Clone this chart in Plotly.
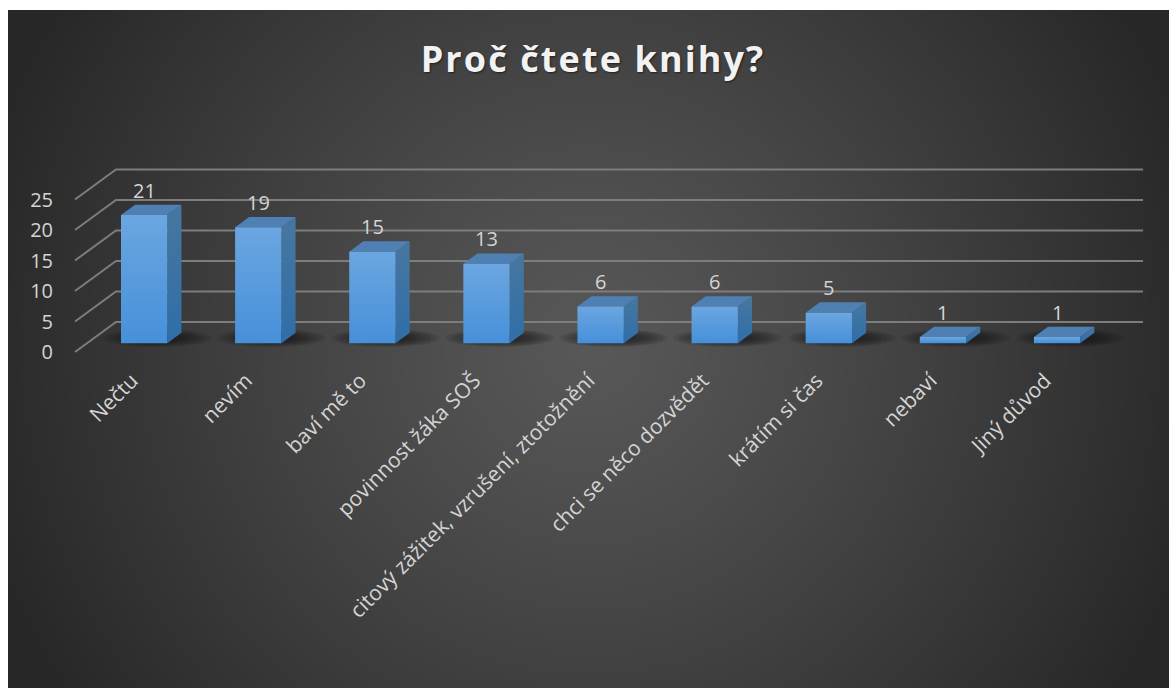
import base64, struct, zlib
import numpy as np
import plotly.graph_objects as go

categories = ["Nečtu", "nevím", "baví mě to", "povinnost žáka SOŠ",
              "citový zážitek, vzrušení, ztotožnění", "chci se něco dozvědět",
              "krátím si čas", "nebaví", "Jiný důvod"]
values = [21, 19, 15, 13, 6, 6, 5, 1, 1]
y_ticks = [0, 5, 10, 15, 20, 25]
title_text = "Proč čtete knihy?"

W, H = 1169, 688
X0_PX, Y0_PX = 75, 352          # front-left floor corner
X_UNIT = 1027 / 9               # px per category
Y_UNIT = 152.5 / 25             # px per value
L, R, T, B = 73, 1147, 165, 354
x_lo, x_hi = (L - X0_PX) / X_UNIT - 0.5, (R - X0_PX) / X_UNIT - 0.5
y_lo, y_hi = (Y0_PX - B) / Y_UNIT, (Y0_PX - T) / Y_UNIT
PW, PH = R - L, B - T
DX = 41 / X_UNIT       # wall depth in x units
DY = 30 / Y_UNIT       # wall depth in y units
BAR_W = 46.3 / X_UNIT
D_FRONT = 0.295
D_BACK = 0.64


def proj(x, y, d):
    return x + d * DX, y + d * DY


def png_uri():
    x0, y0, x1, y1 = 8, 10, W, H
    w, h = x1 - x0, y1 - y0
    yy, xx = np.mgrid[0:h, 0:w]
    r = np.hypot((xx + x0 - 590) / 640, (yy + y0 - 345) / 640)
    t = np.clip(r, 0, 1) ** 1.15
    v = 0x58 + (0x27 - 0x58) * t
    a = np.clip(v, 0, 255).astype(np.uint8)
    raw = b"".join(b"\x00" + np.repeat(row[:, None], 3, axis=1).tobytes() for row in a)

    def chunk(tag, data):
        body = tag + data
        return struct.pack(">I", len(data)) + body + struct.pack(">I", zlib.crc32(body))
    png = (b"\x89PNG\r\n\x1a\n" + chunk(b"IHDR", struct.pack(">IIBBBBB", w, h, 8, 2, 0, 0, 0))
           + chunk(b"IDAT", zlib.compress(raw, 9)) + chunk(b"IEND", b""))
    return "data:image/png;base64," + base64.b64encode(png).decode()


fig = go.Figure()
x_min, x_max = -0.5, len(categories) - 0.5
GRID = "#7d7d7d"

# back-wall gridlines and floor diagonals
for t in y_ticks:
    xs = [x_min, proj(x_min, t, 1)[0], proj(x_max, t, 1)[0]]
    ys = [t, proj(x_min, t, 1)[1], proj(x_max, t, 1)[1]]
    fig.add_trace(go.Scatter(x=xs, y=ys, mode="lines", line=dict(color=GRID, width=2),
                             hoverinfo="skip", showlegend=False))

# soft floor shadows
ang = np.linspace(0, 2 * np.pi, 40)
LAYERS = 12
for k in range(LAYERS):
    f = 1 - k / LAYERS
    sx, sy = [], []
    for i in range(len(values)):
        cx, cy = proj(i, 0, (D_FRONT + D_BACK) / 2)
        cx += 6 / X_UNIT
        sx += list(cx + f * (54 / X_UNIT) * np.cos(ang)) + [None]
        sy += list(cy + f * (9 / Y_UNIT) * np.sin(ang)) + [None]
    fig.add_trace(go.Scatter(x=sx, y=sy, mode="lines", fill="toself", line=dict(width=0),
                             fillcolor="rgba(15,15,15,0.11)",
                             hoverinfo="skip", showlegend=False))

# 3D bars
for i, v in enumerate(values):
    xl, xr = i - BAR_W / 2, i + BAR_W / 2
    fl0 = proj(xl, 0, D_FRONT); fr0 = proj(xr, 0, D_FRONT)
    fl1 = proj(xl, v, D_FRONT); fr1 = proj(xr, v, D_FRONT)
    bl1 = proj(xl, v, D_BACK); br1 = proj(xr, v, D_BACK); br0 = proj(xr, 0, D_BACK)
    faces = [
        ([fr0, br0, br1, fr1], ["#2f6ea8", "#47779f"]),
        ([fl1, fr1, br1, bl1], ["#4f80b4", "#4f80b4"]),
        ([fl0, fr0, fr1, fl1], ["#4690da", "#6ba6e0"]),
    ]
    for pts, cols in faces:
        pts = pts + [pts[0]]
        fig.add_trace(go.Scatter(
            x=[p[0] for p in pts], y=[p[1] for p in pts], mode="lines", fill="toself",
            line=dict(width=0),
            fillgradient=dict(type="vertical", colorscale=[[0, cols[0]], [1, cols[1]]]),
            hoverinfo="skip", showlegend=False))

FONT = "Open Sans"
TXT = "#d4d4d4"
for i, v in enumerate(values):
    fx, fy = proj(i, v, D_FRONT)
    fig.add_annotation(x=fx, y=fy, text=str(v), showarrow=False, yshift=25, yanchor="middle",
                       xanchor="center", font=dict(family=FONT, size=20, color=TXT))

fig.update_layout(
    width=W, height=H, autosize=False,
    paper_bgcolor="white", plot_bgcolor="rgba(0,0,0,0)",
    margin=dict(l=L, r=W - R, t=T, b=H - B, pad=0, autoexpand=False),
    showlegend=False,
    title=dict(text=title_text, x=593 / W, xanchor="center", xref="container",
               y=1 - 59 / H, yanchor="middle", yref="container",
               font=dict(family=FONT, size=36, color="#f2f2f2", weight="bold",
                         shadow="1px 1px 2px rgba(0,0,0,0.55)")),
    xaxis=dict(range=[x_lo, x_hi], tickmode="array", tickvals=list(range(len(categories))),
               ticktext=categories, tickangle=-45, showgrid=False, zeroline=False, showline=False,
               ticks="outside", ticklen=5, tickcolor="rgba(0,0,0,0)", automargin=False,
               ticklabelshift=0,
               tickfont=dict(family=FONT, size=21, color=TXT)),
    yaxis=dict(range=[y_lo, y_hi], tickmode="array", tickvals=y_ticks, showgrid=False, zeroline=False,
               showline=False, ticks="outside", ticklen=15, tickcolor="rgba(0,0,0,0)",
               automargin=False, tickfont=dict(family=FONT, size=20, color=TXT)),
    images=[dict(source=png_uri(), xref="paper", yref="paper",
                 x=(8 - L) / PW, y=(B - 10) / PH, sizex=(W - 8) / PW, sizey=(H - 10) / PH,
                 xanchor="left", yanchor="top", sizing="stretch", layer="below")],
)
fig.write_html("out.html", config=dict(displayModeBar=False),
               post_script="document.body.style.margin='0';document.body.style.overflow='hidden';"
                           "document.querySelector('.gtitle').style.letterSpacing='2.1px';")
